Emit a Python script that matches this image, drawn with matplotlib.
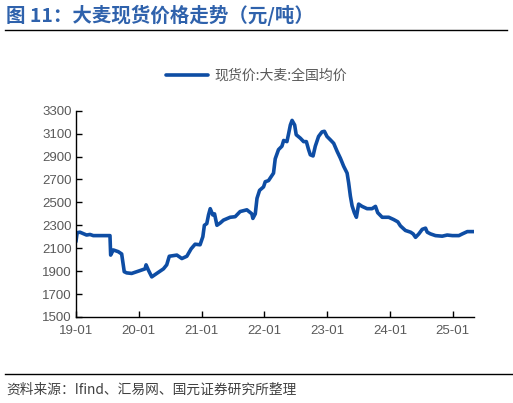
import matplotlib
matplotlib.use("Agg")
import matplotlib.pyplot as plt
import matplotlib.dates as mdates
import pandas as pd

plt.rcParams['font.family'] = ['Liberation Sans', 'Noto Sans CJK SC', 'DejaVu Sans']

# 现货价:大麦:全国均价 (元/吨)
dates = [
    '2019-01-01', '2019-01-08', '2019-01-24', '2019-03-04', '2019-03-24', '2019-04-12',
    '2019-07-18', '2019-07-22', '2019-08-06', '2019-09-04', '2019-09-24', '2019-10-09',
    '2019-10-23', '2019-11-21', '2020-01-09', '2020-02-07', '2020-02-13', '2020-02-26',
    '2020-03-17', '2020-04-15', '2020-05-24', '2020-06-12', '2020-06-27', '2020-08-10',
    '2020-09-08', '2020-10-07', '2020-11-01', '2020-11-24', '2020-12-23', '2021-01-08',
    '2021-01-17', '2021-01-31', '2021-02-10', '2021-02-20', '2021-03-07', '2021-03-17',
    '2021-03-31', '2021-04-19', '2021-05-08', '2021-06-16', '2021-07-15', '2021-08-13',
    '2021-09-21', '2021-10-20', '2021-10-26', '2021-11-09', '2021-11-19', '2021-12-04',
    '2021-12-27', '2022-01-06', '2022-01-25', '2022-02-23', '2022-03-05', '2022-03-24',
    '2022-04-13', '2022-04-23', '2022-05-12', '2022-05-22', '2022-06-01', '2022-06-11',
    '2022-06-26', '2022-07-05', '2022-07-29', '2022-08-17', '2022-09-02', '2022-09-15',
    '2022-09-25', '2022-10-11', '2022-10-24', '2022-11-12', '2022-12-02', '2022-12-16',
    '2022-12-31', '2023-01-20', '2023-02-08', '2023-02-28', '2023-03-19', '2023-04-07',
    '2023-04-27', '2023-05-06', '2023-05-16', '2023-05-26', '2023-06-08', '2023-06-20',
    '2023-07-03', '2023-07-23', '2023-08-21', '2023-09-19', '2023-10-09', '2023-10-22',
    '2023-11-17', '2023-12-25', '2024-01-23', '2024-02-16', '2024-03-02', '2024-03-31',
    '2024-04-30', '2024-05-15', '2024-05-29', '2024-06-17', '2024-07-07', '2024-07-26',
    '2024-08-05', '2024-08-24', '2024-09-22', '2024-10-31', '2024-11-29', '2024-12-29',
    '2025-02-05', '2025-02-25', '2025-03-26', '2025-05-04',
]
prices = [
    2157, 2235, 2240, 2215, 2220, 2210,
    2210, 2040, 2085, 2070, 2050, 1895,
    1885, 1880, 1905, 1920, 1955, 1910,
    1850, 1880, 1920, 1955, 2030, 2040,
    2010, 2030, 2095, 2135, 2130, 2200,
    2300, 2315, 2390, 2445, 2390, 2400,
    2300, 2320, 2345, 2370, 2375, 2420,
    2435, 2400, 2360, 2400, 2535, 2605,
    2635, 2680, 2690, 2755, 2880, 2960,
    2990, 3040, 3030, 3100, 3175, 3215,
    3175, 3090, 3060, 3030, 3030, 2960,
    2915, 2905, 2990, 3075, 3115, 3120,
    3075, 3045, 3015, 2945, 2885, 2815,
    2755, 2670, 2555, 2470, 2410, 2370,
    2485, 2465, 2445, 2445, 2465, 2410,
    2370, 2370, 2350, 2330, 2295, 2255,
    2240, 2225, 2195, 2225, 2265, 2275,
    2240, 2225, 2210, 2205, 2215, 2210,
    2210, 2225, 2245, 2245,
]
x_ticks = ['2019-01-01', '2020-01-01', '2021-01-01', '2022-01-01',
           '2023-01-01', '2024-01-01', '2025-01-01']
y_ticks = list(range(1500, 3301, 200))

series_name = '现货价:大麦:全国均价'
title = '图 11：大麦现货价格走势（元/吨）'
source = '资料来源：Ifind、汇易网、国元证券研究所整理'

line_color = '#0E4DA4'
title_color = '#2F62AC'
gray = '#595959'

d = pd.to_datetime(dates)

fig = plt.figure(figsize=(5.13, 4.03), dpi=100)
ax = fig.add_axes([0.148, 0.2134, 0.776, 0.512])

ax.plot(d, prices, color=line_color, lw=2.6, solid_joinstyle='round',
        solid_capstyle='round', label=series_name)

ax.set_ylim(1500, 3300)
ax.set_yticks(y_ticks)
ax.set_xlim(pd.Timestamp('2019-01-01'), d[-1])
ax.set_xticks(pd.to_datetime(x_ticks))
ax.xaxis.set_major_formatter(mdates.DateFormatter('%y-%m'))

for s in ['top', 'right']:
    ax.spines[s].set_visible(False)
for s in ['left', 'bottom']:
    ax.spines[s].set_color('#000000')
    ax.spines[s].set_linewidth(1.0)
ax.tick_params(direction='in', length=4, width=1, labelsize=9.5,
               labelcolor=gray, color='#000000')
ax.tick_params(axis='x', pad=6)
ax.tick_params(axis='y', pad=3)

leg = fig.legend(loc='center', bbox_to_anchor=(0.5, 0.812), frameon=False,
                 handlelength=3.0, handletextpad=0.5,
                 prop={'family': ['Noto Sans CJK SC'], 'size': 10})
for t in leg.get_texts():
    t.set_color(gray)

fig.text(0.012, 0.962, title, color=title_color, fontsize=14,
         fontweight='bold', va='center', ha='left',
         family=['Noto Sans CJK SC', 'DejaVu Sans'])
fig.add_artist(plt.Line2D([0.01, 0.988], [0.925, 0.925], color='black', lw=1.0))
fig.add_artist(plt.Line2D([0.01, 1.0], [0.072, 0.072], color='black', lw=1.0))
fig.text(0.012, 0.032, source, color='#404040', fontsize=9.9, va='center',
         ha='left', family=['Noto Sans CJK SC', 'DejaVu Sans'])

fig.savefig('out.png', dpi=100)
